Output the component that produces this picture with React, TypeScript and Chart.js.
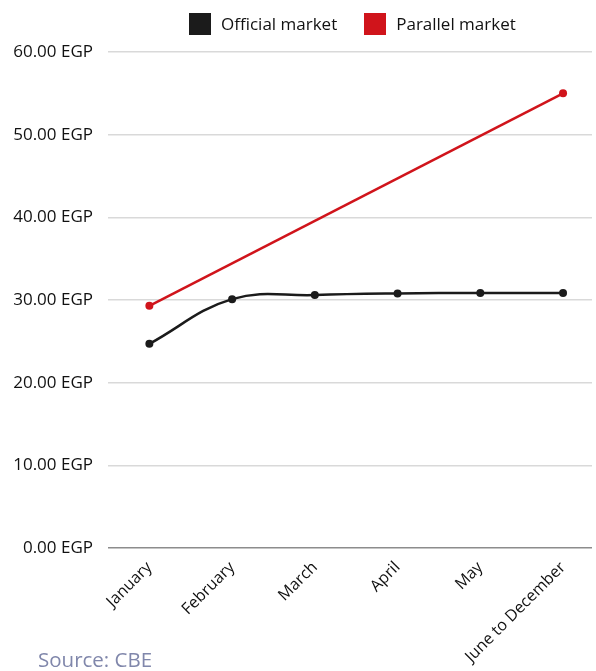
import React, { useEffect, useRef } from "react";
import { Chart, registerables } from "chart.js";

Chart.register(...registerables);

const categories = ["January", "February", "March", "April", "May", "June to December"];
const officialValues = [24.7, 30.1, 30.6, 30.8, 30.85, 30.85];
const parallelValues: (number | null)[] = [29.3, null, null, null, null, 55.0];
const yTicks = [0, 10, 20, 30, 40, 50, 60];

const BLACK = "#1b1b1b";
const RED = "#d0141b";
const FONT = "'Open Sans', 'DejaVu Sans', sans-serif";

export default function App() {
  const ref = useRef<HTMLCanvasElement | null>(null);

  useEffect(() => {
    document.body.style.margin = "0";
    const toPts = (arr: (number | null)[]) =>
      arr.map((v, i) => ({ x: i, y: v }));
    const chart = new Chart(ref.current!, {
      type: "line",
      data: {
        datasets: [
          {
            label: "Official market",
            data: toPts(officialValues) as any,
            borderColor: BLACK,
            backgroundColor: BLACK,
            borderWidth: 2.5,
            pointRadius: 4,
            pointBackgroundColor: BLACK,
            pointBorderWidth: 0,
            tension: 0.4,
          },
          {
            label: "Parallel market",
            data: toPts(parallelValues) as any,
            borderColor: RED,
            backgroundColor: RED,
            borderWidth: 2.5,
            pointRadius: 4,
            pointBackgroundColor: RED,
            pointBorderWidth: 0,
            spanGaps: true,
            tension: 0,
          },
        ],
      },
      options: {
        animation: false,
        responsive: false,
        maintainAspectRatio: false,
        layout: { padding: { top: 52, left: 0, right: 0, bottom: 0 } },
        plugins: { legend: { display: false }, tooltip: { enabled: false } },
        scales: {
          x: {
            type: "linear",
            min: -0.5,
            max: 5.35,
            afterBuildTicks: (scale: any) => {
              scale.ticks = categories.map((_, i) => ({ value: i }));
            },
            afterFit: (scale: any) => {
              scale.height = 123;
            },
            grid: { display: false },
            border: { display: false },
            ticks: {
              autoSkip: false,
              maxRotation: 45,
              minRotation: 45,
              padding: 2,
              color: "#111",
              font: { family: FONT, size: 16 },
              callback: (v: any) => categories[v] ?? "",
            },
          },
          y: {
            min: 0,
            max: 60,
            afterBuildTicks: (scale: any) => {
              scale.ticks = yTicks.map((v) => ({ value: v }));
            },
            afterFit: (scale: any) => {
              scale.width = 108;
            },
            border: { display: false },
            grid: {
              drawTicks: false,
              color: (ctx: any) => (ctx.tick && ctx.tick.value === 0 ? "#8c8c8c" : "#d9d9d9"),
              lineWidth: 1.5,
            },
            ticks: {
              padding: 15,
              color: "#111",
              font: { family: FONT, size: 17 },
              callback: (v: any) => Number(v).toFixed(2) + " EGP",
            },
          },
        },
      },
    });
    return () => chart.destroy();
  }, []);

  const box = (c: string) => ({
    display: "inline-block",
    width: 22,
    height: 22,
    background: c,
    marginRight: 10,
    verticalAlign: "middle",
  });

  return (
    <div style={{ position: "relative", width: 596, height: 671, overflow: "hidden", fontFamily: FONT }}>
      <canvas ref={ref} width={596} height={671} style={{ position: "absolute", left: 0, top: 0 }} />
      <div
        style={{
          position: "absolute",
          left: 189,
          top: 12,
          display: "flex",
          alignItems: "center",
          fontSize: 17,
          color: "#111",
          lineHeight: "23px",
          whiteSpace: "nowrap",
        }}
      >
        <span style={box(BLACK)} />
        <span style={{ marginRight: 27 }}>Official market</span>
        <span style={box(RED)} />
        <span>Parallel market</span>
      </div>
      <div
        style={{
          position: "absolute",
          left: 38,
          top: 645,
          fontSize: 20.5,
          color: "#8087ab",
          whiteSpace: "nowrap",
        }}
      >
        Source: CBE
      </div>
    </div>
  );
}
